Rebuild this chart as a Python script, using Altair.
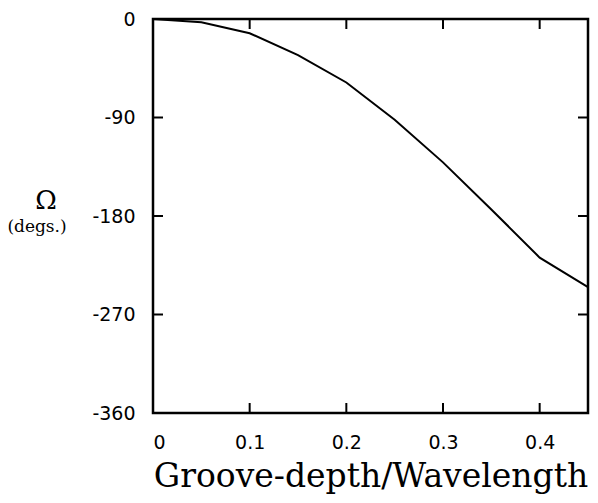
import altair as alt
import pandas as pd

# data
depth = [0.0, 0.05, 0.1, 0.15, 0.2, 0.25, 0.3, 0.35, 0.4, 0.45]
omega = [0, -3, -13, -33, -58, -92, -131, -174, -218, -245]

x_ticks = [0.1, 0.2, 0.3, 0.4]
x_labels = [0, 0.1, 0.2, 0.3, 0.4]
y_ticks = [-90, -180, -270]
y_labels = [0, -90, -180, -270, -360]

W, H = 435, 394

df = pd.DataFrame({"d": depth, "o": omega})
xt = pd.DataFrame({"t": x_ticks})
yt = pd.DataFrame({"t": y_ticks})

xs = alt.Scale(domain=[0, 0.45], nice=False, zero=False)
ys = alt.Scale(domain=[-360, 0], nice=False)

line = alt.Chart(df).mark_line(color="black", strokeWidth=2).encode(
    x=alt.X("d:Q", scale=xs, axis=alt.Axis(
        values=x_labels, ticks=False, tickSize=0, domain=False, grid=False,
        labelFont="DejaVu Sans", labelFontSize=19, labelColor="black",
        labelPadding=20, labelExpr="toString(datum.value)",
        title="Groove-depth/Wavelength", titleFont="DejaVu Serif",
        titleFontSize=33, titleFontWeight="normal", titleColor="black",
        titlePadding=8)),
    y=alt.Y("o:Q", scale=ys, axis=alt.Axis(
        values=y_labels, ticks=False, tickSize=0, domain=False, grid=False,
        labelFont="DejaVu Sans", labelFontSize=19, labelColor="black",
        labelPadding=18, labelExpr="toString(datum.value)", title=None)),
)

bottom_ticks = alt.Chart(xt).mark_rule(color="black", strokeWidth=2).encode(
    x=alt.X("t:Q", scale=xs), y=alt.value(H), y2=alt.value(H - 10))
top_ticks = alt.Chart(xt).mark_rule(color="black", strokeWidth=2).encode(
    x=alt.X("t:Q", scale=xs), y=alt.value(0), y2=alt.value(10))
left_ticks = alt.Chart(yt).mark_rule(color="black", strokeWidth=2).encode(
    y=alt.Y("t:Q", scale=ys), x=alt.value(0), x2=alt.value(10))
right_ticks = alt.Chart(yt).mark_rule(color="black", strokeWidth=2).encode(
    y=alt.Y("t:Q", scale=ys), x=alt.value(W), x2=alt.value(W - 10))

omega_label = alt.Chart(pd.DataFrame({"s": ["Ω"]})).mark_text(
    font="DejaVu Serif", fontSize=26, color="black", align="center",
    baseline="alphabetic").encode(text="s:N", x=alt.value(-107), y=alt.value(190))
degs_label = alt.Chart(pd.DataFrame({"s": ["(degs.)"]})).mark_text(
    font="DejaVu Serif", fontSize=17, color="black", align="center",
    baseline="alphabetic").encode(text="s:N", x=alt.value(-116), y=alt.value(213))

chart = alt.layer(
    line, bottom_ticks, top_ticks, left_ticks, right_ticks, omega_label, degs_label
).properties(
    width=W, height=H,
    background="white",
    autosize=alt.AutoSizeParams(type="none"),
    padding={"left": 145, "top": 11, "right": 2, "bottom": 82},
).configure_view(stroke="black", strokeWidth=2.5)

chart.save("out.html", embed_options={"renderer": "svg", "actions": False})
